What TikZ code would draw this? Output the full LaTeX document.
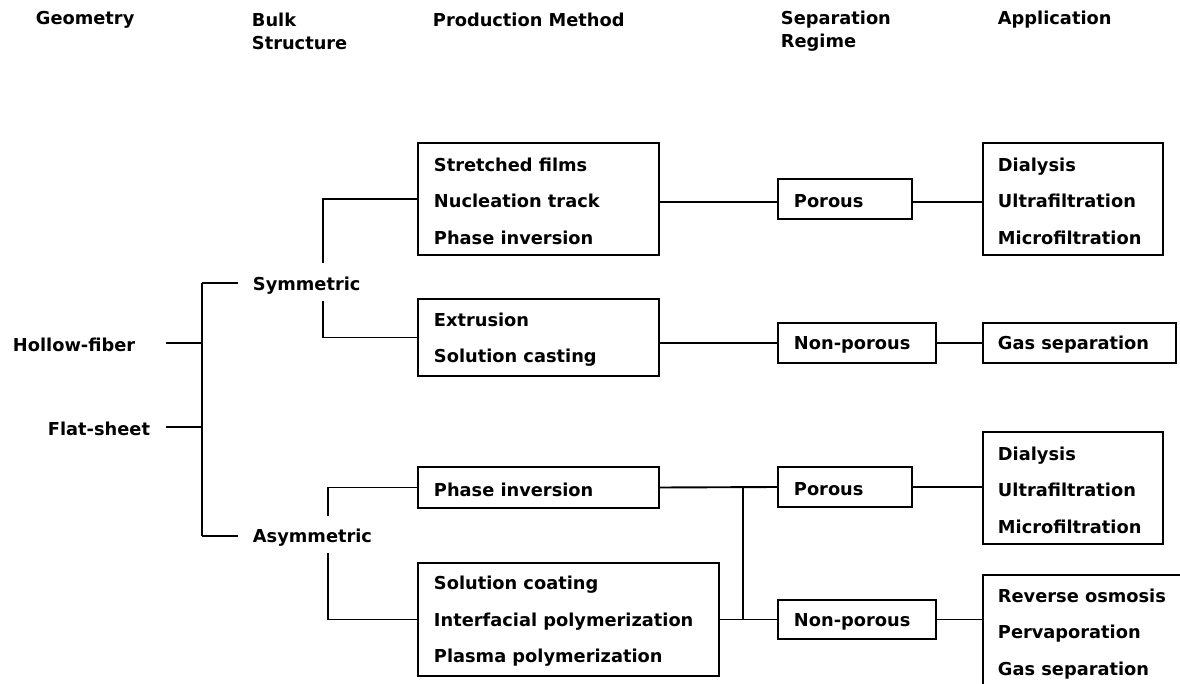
\documentclass[tikz,border=0pt]{standalone}
\usepackage{fontspec}
\setmainfont{DejaVu Sans}
\newcommand\dfont{\fontsize{17.8}{36.5}\selectfont\bfseries}
\newcommand\hfont{\fontsize{17.8}{23}\selectfont\bfseries}
\begin{document}
\begin{tikzpicture}[x=1pt,y=-1pt,
  line width=1.9pt,
  box/.style={draw, rectangle, anchor=north west, inner sep=0pt, outer sep=0pt},
  txt/.style={anchor=west, align=left, inner sep=0pt, font=\dfont, yshift=-2pt},
  hdr/.style={anchor=west, align=left, inner sep=0pt, font=\hfont, yshift=-2pt}]
\clip (0,0) rectangle (1180,684);
\fill[white] (0,0) rectangle (1180,684);

% headers
\node[hdr] (h1) at (35,18) {Geometry};
\node[hdr] (h2) at (251,29.5) {Bulk\\Structure};
\node[hdr] (h3) at (432,18) {Production Method};
\node[hdr] (h4) at (780,29.5) {Separation\\Regime};
\node[hdr] (h5) at (997,18) {Application};

% left labels
\node[txt] (HF) at (12,343) {Hollow-fiber};
\node[txt] (FS) at (47,427) {Flat-sheet};
\node[txt] (Sym) at (252,284) {Symmetric};
\node[txt] (Asym) at (252,536) {Asymmetric};

% production method boxes
\node[box, minimum width=241pt, minimum height=112pt] (B1) at (418,143) {};
\node[txt] (B1t) at ([xshift=15pt]B1.west) {Stretched films\\Nucleation track\\Phase inversion};
\node[box, minimum width=241pt, minimum height=77pt] (B2) at (418,299) {};
\node[txt] (B2t) at ([xshift=15pt]B2.west) {Extrusion\\Solution casting};
\node[box, minimum width=241pt, minimum height=41pt] (B3) at (418,467) {};
\node[txt] (B3t) at ([xshift=15pt]B3.west) {Phase inversion};
\node[box, minimum width=301pt, minimum height=113pt] (B4) at (418,563) {};
\node[txt] (B4t) at ([xshift=15pt]B4.west) {Solution coating\\Interfacial polymerization\\Plasma polymerization};

% separation regime boxes
\node[box, minimum width=134pt, minimum height=40pt] (P1) at (778,179) {};
\node[txt] (P1t) at ([xshift=15pt]P1.west) {Porous};
\node[box, minimum width=158pt, minimum height=40pt] (N1) at (778,323) {};
\node[txt] (N1t) at ([xshift=15pt]N1.west) {Non-porous};
\node[box, minimum width=134pt, minimum height=40pt] (P2) at (778,467) {};
\node[txt] (P2t) at ([xshift=15pt]P2.west) {Porous};
\node[box, minimum width=158pt, minimum height=39pt] (N2) at (778,600) {};
\node[txt] (N2t) at ([xshift=15pt]N2.west) {Non-porous};

% application boxes
\node[box, minimum width=180pt, minimum height=112pt] (A1) at (983,143) {};
\node[txt] (A1t) at ([xshift=14pt]A1.west) {Dialysis\\Ultrafiltration\\Microfiltration};
\node[box, minimum width=193pt, minimum height=40pt] (G1) at (983,323) {};
\node[txt] (G1t) at ([xshift=14pt]G1.west) {Gas separation};
\node[box, minimum width=180pt, minimum height=112pt] (A3) at (983,432) {};
\node[txt] (A3t) at ([xshift=14pt]A3.west) {Dialysis\\Ultrafiltration\\Microfiltration};
\node[box, minimum width=260pt, minimum height=114pt] (A4) at (983,575) {};
\node[txt] (A4t) at ([xshift=14pt]A4.west) {Reverse osmosis\\Pervaporation\\Gas separation};

% geometry tree
\coordinate (tTop) at (202,283);
\coordinate (tBot) at (202,536);
\coordinate (hfL) at (166,343);
\coordinate (fsL) at (166,427);
\coordinate (symL) at (238,283);
\coordinate (asymL) at (238,536);
\draw (tTop) -- (tBot);
\draw (hfL) -- (hfL -| tTop);
\draw (fsL) -- (fsL -| tTop);
\draw (tTop) -- (symL);
\draw (tBot) -- (asymL);

% bulk structure branches
\coordinate (s1) at (323,263);
\coordinate (s2) at (323,301);
\coordinate (a1) at (328,516);
\coordinate (a2) at (328,553);
\draw (s1) |- (B1.west);
\draw (s2) |- (B2.west);
\draw (a1) |- (B3.west);
\draw (a2) |- (B4.west);

% production -> separation
\draw ([yshift=-3pt]B1.east) -- ([yshift=-3pt]P1.west);
\draw (B2.east |- N1.west) -- (N1.west);
\coordinate (jx) at (743,0);
\draw (B3.east) -- (P2.west);
\draw (B4.east) -- (N2.west);
\draw (B3.east -| jx) -- (B4.east -| jx);

% separation -> application
\draw ([yshift=-3pt]P1.east) -- ([yshift=-3pt]A1.west);
\draw (N1.east) -- (G1.west);
\draw (P2.east) -- (P2.east -| A3.west);
\draw (N2.east) -- (N2.east -| A4.west);
\end{tikzpicture}
\end{document}
